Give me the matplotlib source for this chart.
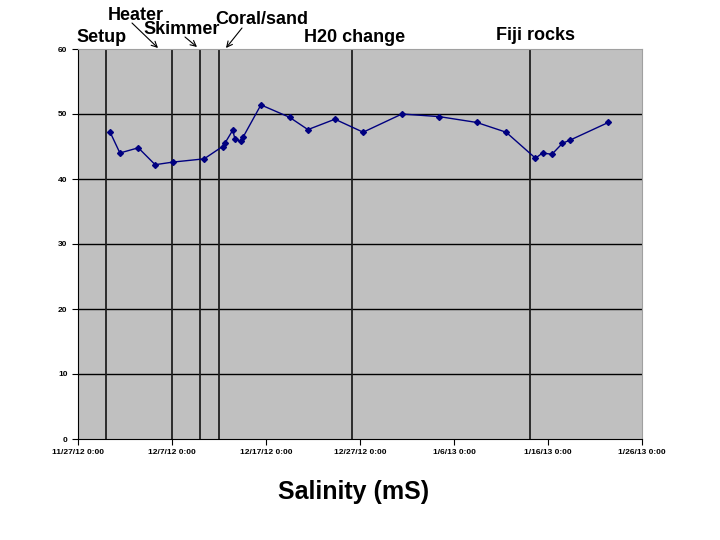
import matplotlib
matplotlib.use("Agg")
import matplotlib.pyplot as plt
from datetime import datetime

plt.rcParams['font.family'] = ['Liberation Sans', 'DejaVu Sans']

# data
dates = ["2012-11-30 10:00", "2012-12-01 11:00", "2012-12-03 10:00", "2012-12-05 05:00",
         "2012-12-07 02:00", "2012-12-10 10:00", "2012-12-12 09:00", "2012-12-12 16:00",
         "2012-12-13 11:00", "2012-12-13 17:00", "2012-12-14 08:00", "2012-12-14 14:00",
         "2012-12-16 11:00", "2012-12-19 12:00", "2012-12-21 11:00", "2012-12-24 08:00",
         "2012-12-27 08:00", "2012-12-31 11:00", "2013-01-04 10:00", "2013-01-08 10:00",
         "2013-01-11 13:00", "2013-01-14 16:00", "2013-01-15 10:00", "2013-01-16 10:00",
         "2013-01-17 13:00", "2013-01-18 09:00", "2013-01-22 10:00"]
salinity = [47.2, 44.0, 44.8, 42.2, 42.6, 43.1, 45.0, 45.6, 47.5, 46.1, 45.8, 46.5,
            51.4, 49.5, 47.6, 49.2, 47.2, 50.0, 49.6, 48.7, 47.2, 43.2, 44.0, 43.8,
            45.5, 46.0, 48.7]

events = ["Setup", "Heater", "Skimmer", "Coral/sand", "H20 change", "Fiji rocks"]
event_dates = ["2012-11-30 00:00", "2012-12-07 00:00", "2012-12-10 00:00",
               "2012-12-12 00:00", "2012-12-26 04:00", "2013-01-14 02:00"]

tick_dates = ["2012-11-27", "2012-12-07", "2012-12-17", "2012-12-27",
              "2013-01-06", "2013-01-16", "2013-01-26"]
tick_labels = ["11/27/12 0:00", "12/7/12 0:00", "12/17/12 0:00", "12/27/12 0:00",
               "1/6/13 0:00", "1/16/13 0:00", "1/26/13 0:00"]

fmt = "%Y-%m-%d %H:%M"
x = [datetime.strptime(d, fmt) for d in dates]
ex = [datetime.strptime(d, fmt) for d in event_dates]
tx = [datetime.strptime(d, "%Y-%m-%d") for d in tick_dates]

fig = plt.figure(figsize=(7.2, 5.4), dpi=100)
ax = fig.add_axes([78/720, 1-439/540, 564/720, 390/540])
ax.set_facecolor("#C0C0C0")

for yv in range(10, 60, 10):
    ax.axhline(yv, color="black", lw=1, zorder=1)
for e in ex:
    ax.axvline(e, color="#202020", lw=1.3, zorder=1)

ax.plot(x, salinity, color="#000080", lw=1, marker="D", ms=3, zorder=3)

ax.set_xlim(tx[0], tx[-1])
ax.set_ylim(0, 60)
ax.set_yticks(range(0, 61, 10))
ax.set_xticks(tx)
ax.set_xticklabels(tick_labels)
ax.tick_params(labelsize=6, length=4, direction="out")
for lab in ax.get_xticklabels() + ax.get_yticklabels():
    lab.set_fontweight("bold")

for s in ["top", "right"]:
    ax.spines[s].set_color("#A0A0A0")
for s in ["left", "bottom"]:
    ax.spines[s].set_color("black")

# event labels (figure pixel coords)
def px(xp, yp):
    return (xp/720, 1-yp/540)

lab_pos = [(102, 38), (136, 15), (182, 30), (262, 19), (355, 37), (535, 35)]
for name, (lx, ly) in zip(events, lab_pos):
    fig.text(*px(lx, ly), name, fontsize=13, fontweight="bold", ha="center", va="center")

# arrows: tail -> head
arrows = [((132, 23), (158, 48)), ((185, 37), (197, 47)), ((242, 28), (226, 48))]
for tail, head in arrows:
    ax.annotate("", xy=px(*head), xycoords="figure fraction",
                xytext=px(*tail), textcoords="figure fraction",
                arrowprops=dict(arrowstyle="->", color="black", lw=0.8,
                                shrinkA=0, shrinkB=0))

fig.text(*px(354, 492), "Salinity (mS)", fontsize=18, fontweight="bold", ha="center", va="center")

fig.savefig("out.png", dpi=100)
